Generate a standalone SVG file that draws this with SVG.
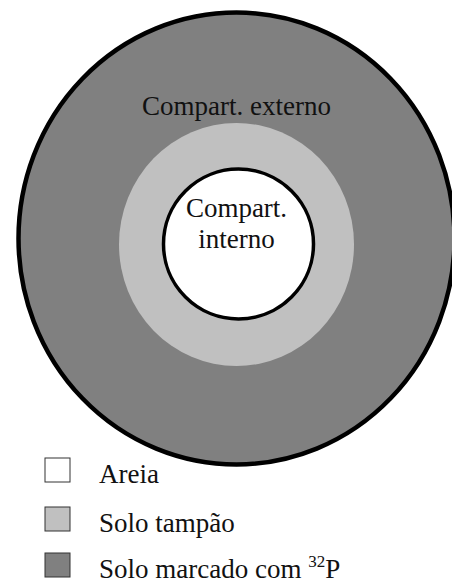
<svg xmlns="http://www.w3.org/2000/svg" width="452" height="583" viewBox="0 0 452 583">
  <style>
    .lbl { font-family: "Liberation Serif", "Times New Roman", serif; font-size: 27px; fill: #111; }
    .key { stroke: #333; stroke-width: 1; }
  </style>
  <rect width="452" height="583" fill="#fff"/>
  <!-- outer compartment: labelled soil -->
  <g id="outer">
    <ellipse cx="236.5" cy="238.5" rx="218" ry="226" fill="#808080" stroke="#000" stroke-width="4.5"/>
    <text class="lbl" x="236.5" y="115" text-anchor="middle">Compart. externo</text>
  </g>
  <!-- buffer soil ring -->
  <g id="buffer">
    <ellipse cx="236.5" cy="244.5" rx="117.5" ry="121.5" fill="#c0c0c0"/>
  </g>
  <!-- inner compartment: sand -->
  <g id="inner">
    <circle cx="238.5" cy="244" r="75" fill="#fff" stroke="#000" stroke-width="3.5"/>
    <text class="lbl" x="236.5" y="217" text-anchor="middle">Compart.</text>
    <text class="lbl" x="236.5" y="248" text-anchor="middle">interno</text>
  </g>
  <!-- legend -->
  <g id="legend">
    <rect class="key" x="45" y="458" width="25" height="24" fill="#fff"/>
    <text class="lbl" x="99" y="483">Areia</text>
    <rect class="key" x="45" y="507" width="25" height="24" fill="#c0c0c0"/>
    <text class="lbl" x="99" y="532">Solo tampão</text>
    <rect class="key" x="45" y="553" width="25" height="24" fill="#808080"/>
    <text class="lbl" x="99" y="578">Solo marcado com <tspan font-size="17" dy="-11">32</tspan><tspan dy="11">P</tspan></text>
  </g>
</svg>
